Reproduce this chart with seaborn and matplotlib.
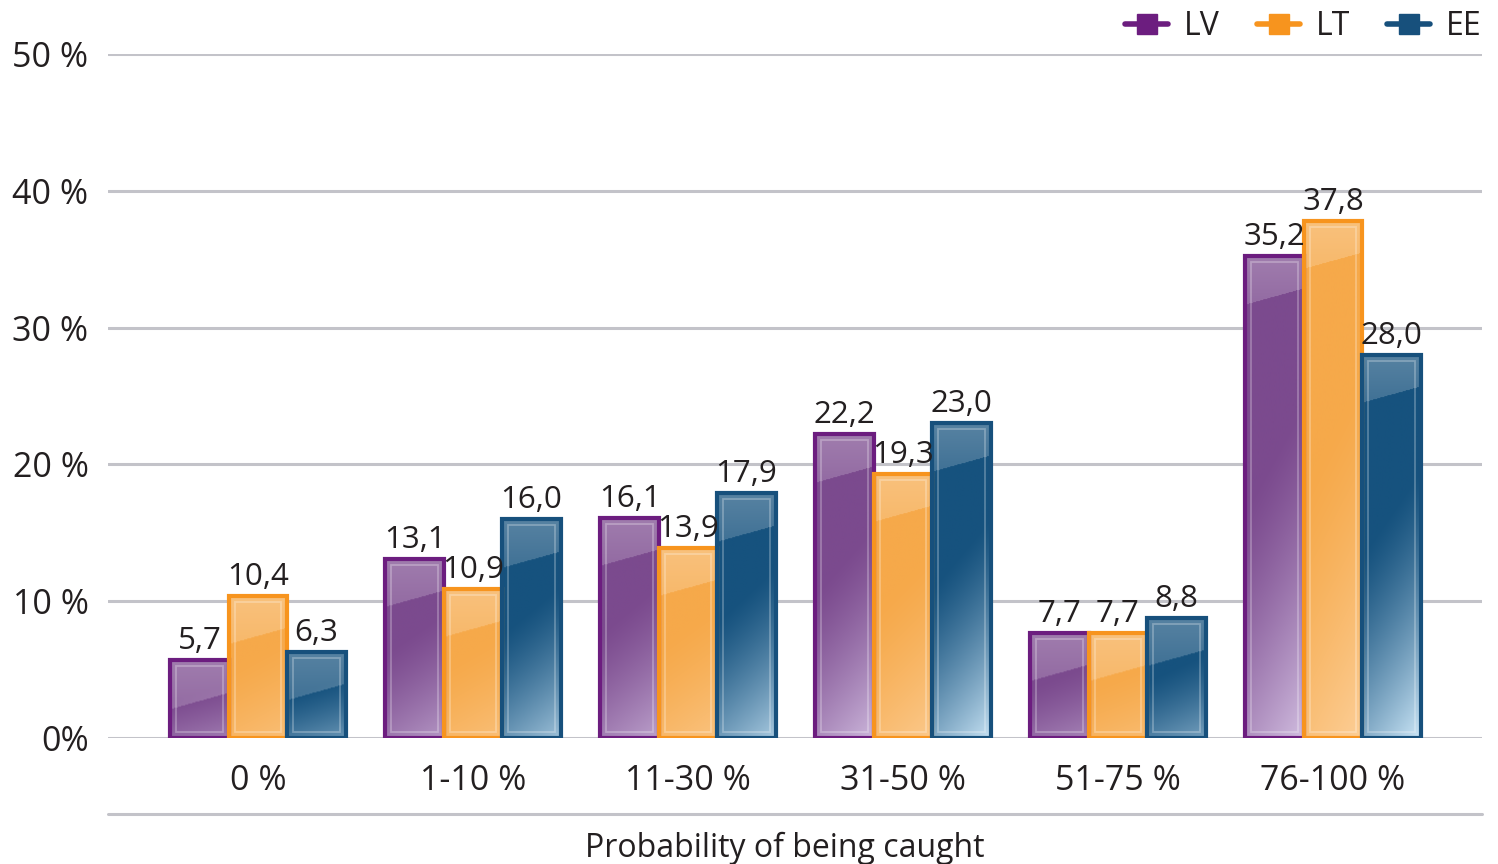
import numpy as np
import pandas as pd
import matplotlib
matplotlib.use("Agg")
import matplotlib.pyplot as plt
from matplotlib.patches import Rectangle
from matplotlib.lines import Line2D
from matplotlib.colors import to_rgb
import seaborn as sns

# ---- data -------------------------------------------------------------
categories = ["0 %", "1-10 %", "11-30 %", "31-50 %", "51-75 %", "76-100 %"]
series = ["LV", "LT", "EE"]
lv = [5.7, 13.1, 16.1, 22.2, 7.7, 35.2]
lt = [10.4, 10.9, 13.9, 19.3, 7.7, 37.8]
ee = [6.3, 16.0, 17.9, 23.0, 8.8, 28.0]
y_ticks = [0, 10, 20, 30, 40, 50]
y_tick_labels = ["0%", "10 %", "20 %", "30 %", "40 %", "50 %"]
x_title = "Probability of being caught"

# ---- styling ----------------------------------------------------------
fill_colors = {"LV": "#7B4A8E", "LT": "#F6A94A", "EE": "#16527E"}
edge_colors = {"LV": "#6C1D7F", "LT": "#F7941E", "EE": "#17507C"}
light_colors = {"LV": "#CDB8DC", "LT": "#FCCD94", "EE": "#C4E0F2"}
grid_color = "#C3C3C9"
text_color = "#231F20"

sns.set_theme(style="white")
plt.rcParams["font.family"] = ["Open Sans", "DejaVu Sans"]

df = pd.DataFrame({
    "category": [c for s in series for c in categories],
    "series": [s for s in series for _ in categories],
    "value": lv + lt + ee,
})

W, H = 1498, 864
fig = plt.figure(figsize=(W / 100, H / 100), dpi=100)
ax_left, ax_right = 108, 1482
ax_top, ax_bottom = 54, 738
ax = fig.add_axes([ax_left / W, 1 - ax_bottom / H,
                   (ax_right - ax_left) / W, (ax_bottom - ax_top) / H])

sns.barplot(data=df, x="category", y="value", hue="series",
            order=categories, hue_order=series,
            palette=fill_colors, width=0.815, gap=0,
            saturation=1, legend=False, ax=ax, zorder=2)

ax.set_xlim(-0.698, 5.693)
ax.set_ylim(0, 50)

# gridlines
for t in y_ticks:
    ax.axhline(t, color=grid_color, lw=2.2, zorder=1)
ax.plot([0, 1], [-0.111, -0.111], transform=ax.transAxes,
        color=grid_color, lw=2.2, clip_on=False)

for sp in ax.spines.values():
    sp.set_visible(False)
ax.set_yticks(y_ticks)
ax.set_yticklabels(y_tick_labels, fontsize=24.5, color=text_color)
ax.tick_params(axis="y", length=0, pad=14)
ax.tick_params(axis="x", length=0, pad=19, labelsize=24.5,
               labelcolor=text_color)
ax.set_xlabel("")
ax.set_ylabel("")
fig.text(785 / W, 1 - 848 / H, x_title, ha="center", va="center",
         fontsize=23, color=text_color)

# pixel scale of the data coordinates
px_per_x = (ax_right - ax_left) / (ax.get_xlim()[1] - ax.get_xlim()[0])
px_per_y = (ax_bottom - ax_top) / 50.0


def glossy_image(name, w_px, h_px):
    """RGBA array for a glossy bar fill (row 0 = top of bar)."""
    base = np.array(to_rgb(fill_colors[name]))
    light = np.array(to_rgb(light_colors[name]))
    white = np.ones(3)
    nh, nw = max(int(h_px), 2), max(int(w_px), 2)
    py, px = np.mgrid[0:nh, 0:nw].astype(float)
    u = px / (nw - 1)
    img = np.tile(base, (nh, nw, 1))
    # lighter lower part, fading in diagonally toward bottom right
    s = py / (nh - 1) + 0.22 * u
    t = np.clip((s - 0.52) / 0.68, 0, 1) ** 1.3
    strength = 0.25 + 0.75 * min(1.0, h_px / 330.0)
    k = (t * strength)[..., None]
    img = img * (1 - k) + light * k
    # glossy highlight band at the top with a slanted lower edge
    edge = 48 - 16 * u
    hl = (py < edge).astype(float)
    hk = (0.28 - 0.10 * np.clip(py / 48, 0, 1))[..., None] * hl[..., None]
    img = img * (1 - hk) + white * hk
    alpha = np.ones((nh, nw, 1))
    return np.concatenate([np.clip(img, 0, 1), alpha], axis=2)


for name, container in zip(series, ax.containers):
    for bar in container:
        x0, w, h = bar.get_x(), bar.get_width(), bar.get_height()
        bar.set_edgecolor("none")
        img = glossy_image(name, w * px_per_x, h * px_per_y)
        im = ax.imshow(img, extent=(x0, x0 + w, 0, h), origin="upper",
                       aspect="auto", interpolation="bilinear", zorder=2.5)
        im.set_clip_path(bar)
        # thin inner highlight frame
        ix, iy = 6 / px_per_x, 6 / px_per_y
        if h > 2 * iy:
            ax.add_patch(Rectangle((x0 + ix, iy), w - 2 * ix, h - 2 * iy,
                                   fill=False, edgecolor="white", alpha=0.28,
                                   lw=1.3, zorder=2.7))
        # outline
        ax.add_patch(Rectangle((x0, 0), w, h, fill=False,
                               edgecolor=edge_colors[name], lw=3.0,
                               zorder=3, joinstyle="miter"))
        label = f"{h:.1f}".replace(".", ",")
        ax.annotate(label, (x0 + w / 2, h), xytext=(0, 8),
                    textcoords="offset points", ha="center", va="baseline",
                    fontsize=22.5, color=text_color, zorder=4)

ax.set_xlim(-0.698, 5.693)
ax.set_ylim(0, 50)

handles = [Line2D([], [], color=edge_colors[s], lw=4, marker="s",
                  markersize=15, markerfacecolor=edge_colors[s],
                  markeredgecolor=edge_colors[s], solid_capstyle="round")
           for s in series]
fig.legend(handles, series, loc="upper right",
           bbox_to_anchor=(1498 / W, 1 + 6 / H), ncol=3, frameon=False,
           fontsize=23, handlelength=1.35, handletextpad=0.5,
           columnspacing=1.15, borderpad=0, labelcolor=text_color)

fig.savefig("out.png", dpi=100)
